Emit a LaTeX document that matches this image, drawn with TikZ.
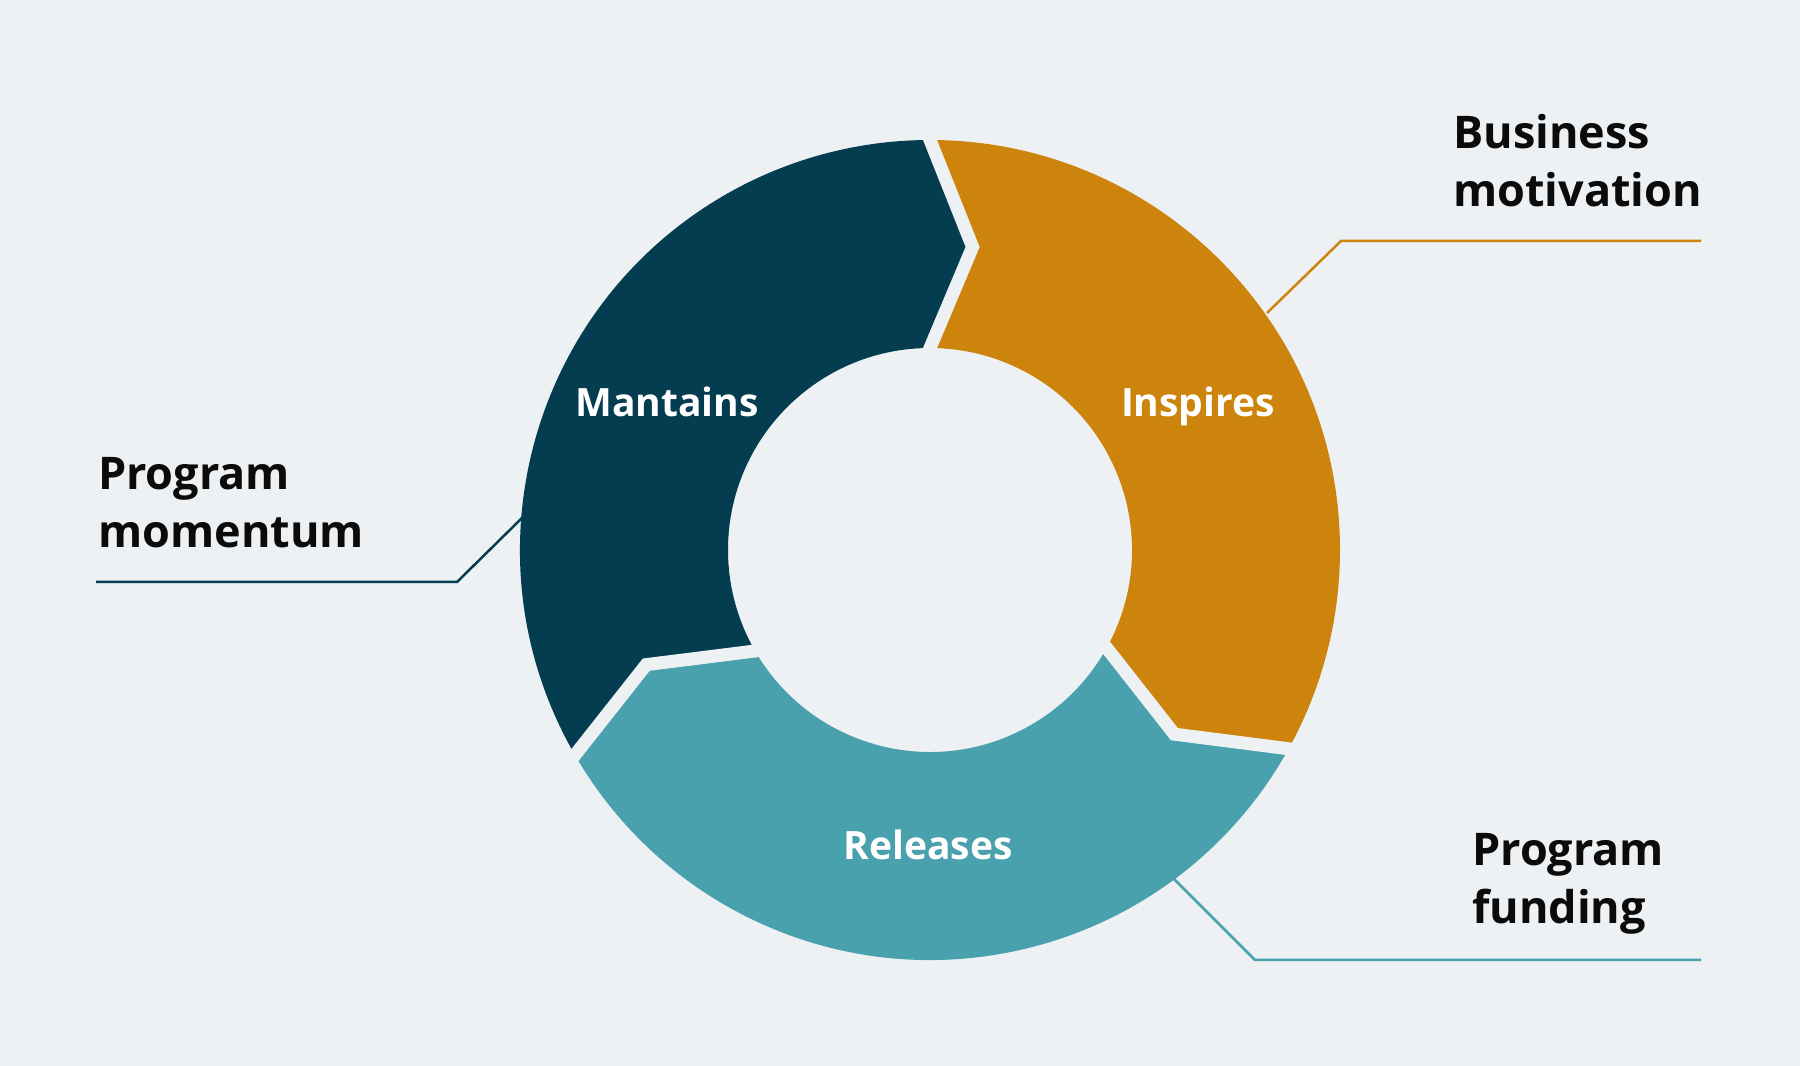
\documentclass[tikz,border=0pt]{standalone}
\usepackage{fontspec}
\setmainfont{Open Sans}
\usetikzlibrary{calc}
\definecolor{bgcol}{HTML}{EDF1F4}
\definecolor{darkteal}{HTML}{033D4F}
\definecolor{ochre}{HTML}{CD840C}
\definecolor{seablue}{HTML}{48A1AC}
\definecolor{ink}{HTML}{0B0B0B}
\begin{document}
\begin{tikzpicture}[x=1pt,y=1pt,
      outer/.style={font=\fontsize{45}{58}\selectfont\bfseries,text=ink,align=left,inner sep=0pt,anchor=base west},
      inner/.style={font=\fontsize{39}{48}\selectfont\bfseries,text=white,inner sep=0pt,anchor=base},
      leader/.style={line width=2.5pt},
      gap/.style={bgcol,line width=13pt,line join=miter}]
   \fill[bgcol] (0,0) rectangle (1800,1066);
   \useasboundingbox (0,0) rectangle (1800,1066);
   % leader lines
   \coordinate (bizA) at (1267,753);
   \coordinate (bizB) at (1341,825);
   \coordinate (bizC) at (1701,825);
   \coordinate (momA) at (523,549);
   \coordinate (momB) at (457,484);
   \coordinate (momC) at (96,484);
   \coordinate (funA) at (1174,187);
   \coordinate (funB) at (1255,106);
   \coordinate (funC) at (1701,106);
   \draw[leader,ochre] (bizA) -- (bizB) -- (bizC);
   \draw[leader,darkteal] (momA) -- (momB) -- (momC);
   \draw[leader,seablue] (funA) -- (funB) -- (funC);
   % ring
   \begin{scope}[shift={(930,516)}]
      \fill[darkteal] (210:410) arc[start angle=210,end angle=90,radius=410] -- (82:306)
         -- (90:202) arc[start angle=90,end angle=210,radius=202] -- (202:306) -- cycle;
      \fill[ochre] (90:410) arc[start angle=90,end angle=-29,radius=410] -- (-37:306)
         -- (-29:202) arc[start angle=-29,end angle=90,radius=202] -- (82:306) -- cycle;
      \fill[seablue] (-29:410) arc[start angle=-29,end angle=-150,radius=410] -- (-158:306)
         -- (-150:202) arc[start angle=-150,end angle=-29,radius=202] -- (-37:306) -- cycle;
      \foreach \b in {90,-29,210}
         \draw[gap] ($({\b-8}:306)!1.3!(\b:410)$) -- ({\b-8}:306) -- ($({\b-8}:306)!1.3!(\b:202)$);
   \end{scope}
   % labels
   \node[inner] (lblMant) at (667,649) {Mantains};
   \node[inner] (lblInsp) at (1198,649) {Inspires};
   \node[inner] (lblRel) at (928,206) {Releases};
   \node[outer] (lblBiz) at (1453,859) {Business\\motivation};
   \node[outer] (lblMom) at (98,518) {Program\\momentum};
   \node[outer] (lblFund) at (1472,142) {Program\\funding};
\end{tikzpicture}
\end{document}
